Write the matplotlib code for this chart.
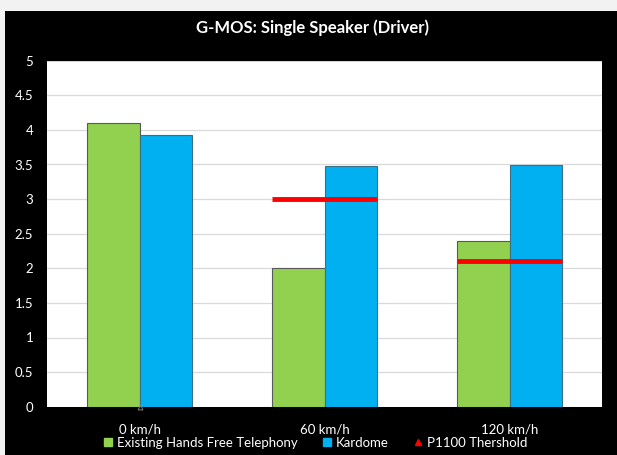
import matplotlib
matplotlib.use("Agg")
import matplotlib.pyplot as plt
from matplotlib.patches import Rectangle
from matplotlib.lines import Line2D
import numpy as np

plt.rcParams['font.family'] = ['Lato', 'DejaVu Sans']

categories = ["0 km/h", "60 km/h", "120 km/h"]
existing = [4.1, 2.0, 2.4]
kardome = [3.93, 3.48, 3.49]
threshold = [0.0, 3.0, 2.1]
yticks = [0, 0.5, 1, 1.5, 2, 2.5, 3, 3.5, 4, 4.5, 5]
ytick_labels = ["0", "0.5", "1", "1.5", "2", "2.5", "3", "3.5", "4", "4.5", "5"]

fig = plt.figure(figsize=(6.17, 4.55), dpi=100, facecolor='#f2f2f2')
fig.patches.append(Rectangle((5/617, 0), 1, 1 - 11/455, transform=fig.transFigure,
                             facecolor='black', edgecolor='none', zorder=-5))

ax = fig.add_axes([47.3/617, (455-406.7)/455, (602-47.3)/617, (406.7-60.7)/455])
ax.set_facecolor('white')

x = np.arange(len(categories))
w = 0.285
ax.bar(x - w/2, existing, width=w, color='#92d050', edgecolor='#595959', linewidth=0.8, zorder=3)
ax.bar(x + w/2, kardome, width=w, color='#00b0f0', edgecolor='#3a6f85', linewidth=0.8, zorder=3)

for xi, t in zip(x, threshold):
    if t > 0:
        ax.hlines(t, xi - w, xi + w, color='#ff0000', linewidth=3.5, zorder=4)
    else:
        ax.plot([xi], [t], marker='^', markersize=3.5, markerfacecolor='none',
                markeredgecolor='#7f7f7f', markeredgewidth=0.7, zorder=5, clip_on=False)

ax.set_xlim(-0.5, 2.5)
ax.set_ylim(0, 5)
ax.set_yticks(yticks)
ax.set_yticklabels(ytick_labels, color='white', fontsize=9.5)
ax.tick_params(axis='y', length=0, pad=10)
ax.yaxis.grid(True, color='#d9d9d9', linewidth=0.9, zorder=0)
ax.set_axisbelow(True)
for s in ax.spines.values():
    s.set_visible(False)

ax.set_xticks(x)
ax.set_xticklabels(categories, color='white', fontsize=9.5)
ax.tick_params(axis='x', length=0, pad=12)

fig.text(313/617, 1 - 28/455, "G-MOS: Single Speaker (Driver)", color='white',
         fontsize=12, fontweight='bold', ha='center', va='center')

handles = [
    Line2D([], [], linestyle='none', marker='s', markersize=6, markerfacecolor='#92d050', markeredgecolor='#92d050'),
    Line2D([], [], linestyle='none', marker='s', markersize=6, markerfacecolor='#00b0f0', markeredgecolor='#00b0f0'),
    Line2D([], [], linestyle='none', marker='^', markersize=4, markerfacecolor='#ff0000', markeredgecolor='#ff0000'),
]
leg = fig.legend(handles, ["Existing Hands Free Telephony", "Kardome", "P1100 Thershold"],
                 loc='center', bbox_to_anchor=(315/617, 1 - 443/455), ncol=3, frameon=False,
                 fontsize=9.5, handlelength=0.8, handletextpad=0.3, columnspacing=1.8)
for t in leg.get_texts():
    t.set_color('white')

fig.savefig("out.png", dpi=100, facecolor=fig.get_facecolor())
